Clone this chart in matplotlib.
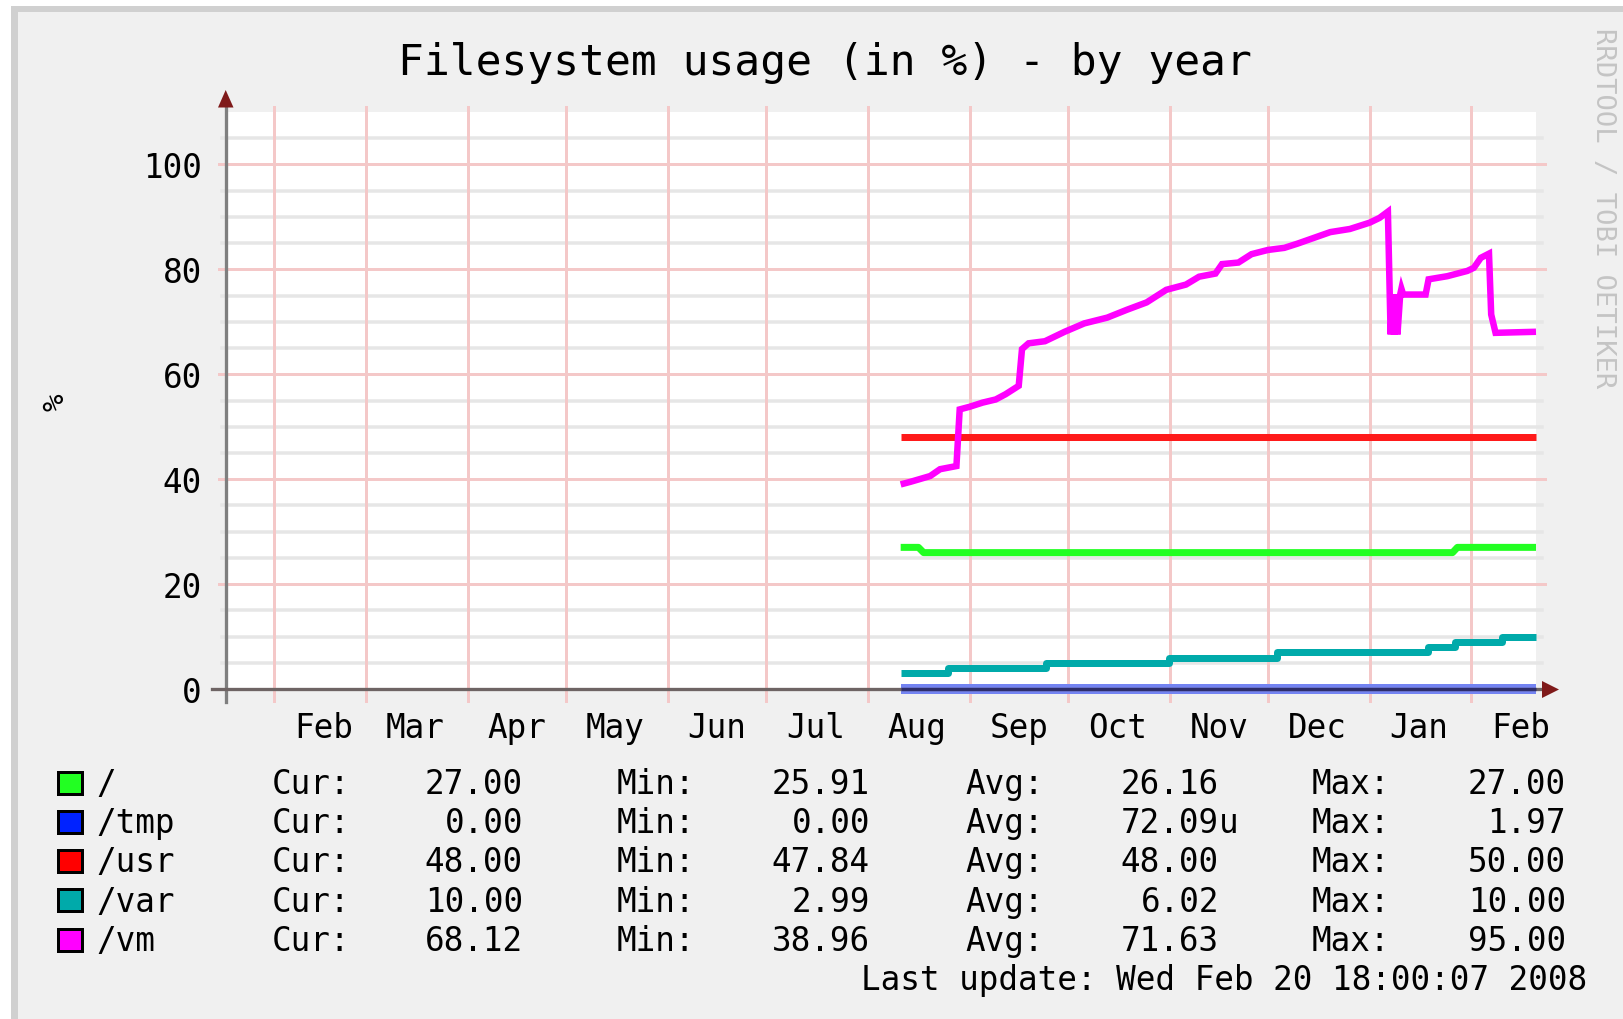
import matplotlib
matplotlib.use("Agg")
import matplotlib.pyplot as plt
import matplotlib.transforms as mtrans
from matplotlib.patches import Rectangle, Polygon
import pandas as pd

# ---------------- data ----------------
title = "Filesystem usage (in %) - by year"
ylabel = "%"
watermark = "RRDTOOL / TOBI OETIKER"
last_update = "Last update: Wed Feb 20 18:00:07 2008"

x_start = "2007-01-17 06:00"
x_end = "2008-02-20 18:00"

month_starts = pd.date_range("2007-02-01", "2008-02-01", freq="MS")
month_labels = ["Feb", "Mar", "Apr", "May", "Jun", "Jul", "Aug",
                "Sep", "Oct", "Nov", "Dec", "Jan", "Feb"]
y_major = [0, 20, 40, 60, 80, 100]
y_minor = [5, 10, 15, 25, 30, 35, 45, 50, 55, 65, 70, 75, 85, 90, 95, 105]
y_max = 110

root_dates = ["2007-08-11 00:00", "2007-08-16 10:00", "2007-08-18 00:00",
              "2008-01-26 07:00", "2008-01-27 19:00", "2008-02-20 18:00"]
root_vals = [27.0, 27.0, 26.0, 26.0, 27.0, 27.0]

tmp_dates = ["2007-08-11 00:00", "2008-02-20 18:00"]
tmp_vals = [0.0, 0.0]

usr_dates = ["2007-08-11 00:00", "2008-02-20 18:00"]
usr_vals = [48.0, 48.0]

var_dates = ["2007-08-11 00:00", "2007-08-25 10:00", "2007-09-24 10:00",
             "2007-10-31 19:00", "2007-12-03 19:00", "2008-01-18 19:00",
             "2008-01-27 00:00", "2008-02-10 07:00", "2008-02-20 18:00"]
var_vals = [3.0, 4.0, 5.0, 6.0, 7.0, 8.0, 9.0, 10.0, 10.0]

vm_dates = ["2007-08-11 00:00", "2007-08-14 00:00", "2007-08-20 00:00",
            "2007-08-23 00:00", "2007-08-28 00:00", "2007-08-29 00:00",
            "2007-09-01 00:00", "2007-09-05 00:00", "2007-09-09 00:00",
            "2007-09-12 00:00", "2007-09-16 00:00", "2007-09-17 00:00",
            "2007-09-19 00:00", "2007-09-24 00:00", "2007-09-30 00:00",
            "2007-10-06 00:00", "2007-10-13 00:00", "2007-10-19 00:00",
            "2007-10-25 00:00", "2007-10-31 00:00", "2007-11-06 00:00",
            "2007-11-10 00:00", "2007-11-15 00:00", "2007-11-17 00:00",
            "2007-11-22 00:00", "2007-11-26 00:00", "2007-12-01 00:00",
            "2007-12-06 00:00", "2007-12-10 00:00", "2007-12-15 00:00",
            "2007-12-20 00:00", "2007-12-26 00:00", "2008-01-01 00:00",
            "2008-01-04 00:00", "2008-01-06 14:00",
            "2008-01-07 10:00", "2008-01-08 00:00", "2008-01-08 12:00",
            "2008-01-09 00:00", "2008-01-09 12:00", "2008-01-10 08:00",
            "2008-01-10 17:00", "2008-01-11 06:00", "2008-01-18 02:00",
            "2008-01-19 00:00", "2008-01-24 17:00", "2008-01-30 19:00",
            "2008-02-01 19:00", "2008-02-03 22:00", "2008-02-06 10:00",
            "2008-02-07 02:00", "2008-02-08 10:00", "2008-02-20 18:00"]
vm_vals = [39.0, 39.5, 40.6, 41.9, 42.5, 53.3, 53.8, 54.6, 55.2, 56.2,
           57.8, 64.8, 65.9, 66.3, 68.1, 69.7, 70.8, 72.3, 73.7, 76.1,
           77.1, 78.6, 79.2, 81.0, 81.3, 82.9, 83.7, 84.1, 84.9, 86.0,
           87.1, 87.7, 88.9, 89.8, 91.0,
           67.6, 75.2, 67.6, 75.2, 67.6, 75.2,
           76.3, 75.2, 75.2,
           78.1, 78.7, 79.7, 80.3, 82.2, 83.0,
           71.4, 67.9, 68.1]

legend_labels = ["/", "/tmp", "/usr", "/var", "/vm"]
legend_colors = ["#22ff22", "#0022ff", "#ff0000", "#00aaaa", "#ff00ff"]
cur_vals = ["27.00", "0.00", "48.00", "10.00", "68.12"]
min_vals = ["25.91", "0.00", "47.84", "2.99", "38.96"]
avg_vals = ["26.16", "72.09", "48.00", "6.02", "71.63"]
avg_units = ["", "u", "", "", ""]
max_vals = ["27.00", "1.97", "50.00", "10.00", "95.00"]


def dt(lst):
    return pd.to_datetime(lst, format="%Y-%m-%d %H:%M")


# ---------------- layout ----------------
W, H = 1624, 1020
DPI = 100
PX = 72.0 / DPI  # points per pixel
plt.rcParams["font.family"] = ["DejaVu Sans Mono", "DejaVu Sans"]

fig = plt.figure(figsize=(W / DPI, H / DPI), dpi=DPI, facecolor="white")
bg = fig.add_axes([0, 0, 1, 1], zorder=0)
bg.set_xlim(0, W)
bg.set_ylim(H, 0)
bg.axis("off")
bg.add_patch(Rectangle((11, 6.7), W, H, facecolor="#d0d0d0", edgecolor="none"))
bg.add_patch(Rectangle((17.7, 12.7), W, H, facecolor="#f0f0f0", edgecolor="none"))

L, R, T, B = 226, 1536, 113, 690
ax = fig.add_axes([L / W, (H - B) / H, (R - L) / W, (B - T) / H], zorder=1)
ax.set_facecolor("white")
for s in ax.spines.values():
    s.set_visible(False)
ax.set_xticks([])
ax.set_yticks([])
ax.set_xlim(pd.Timestamp(x_start), pd.Timestamp(x_end))
ax.set_ylim(0, y_max)

pw, ph = R - L, B - T
minor_c = "#e6e6e6"
major_c = "#f4c8c8"
for v in y_minor:
    ax.axhline(v, xmin=-4.2 / pw, xmax=(1541.7 - L) / pw, color=minor_c,
               lw=3.5 * PX, clip_on=False, zorder=1)
for v in y_major[1:]:
    ax.axhline(v, xmin=-7.4 / pw, xmax=(1545 - L) / pw, color=major_c,
               lw=3 * PX, clip_on=False, zorder=1.1)
for d in month_starts:
    ax.axvline(d, ymin=-12 / ph, ymax=1 + 5 / ph, color=major_c,
               lw=3 * PX, clip_on=False, zorder=1.1)

lw = 7 * PX
ax.plot(dt(root_dates), root_vals, color="#22ff22", lw=lw,
        zorder=3, solid_capstyle="butt", clip_on=False)
ax.plot(dt(tmp_dates), tmp_vals, color="#7383f2", lw=10 * PX,
        zorder=3, solid_capstyle="butt", clip_on=False)
ax.plot(dt(usr_dates), usr_vals, color="#ff1a1a", lw=lw,
        zorder=3, solid_capstyle="butt", clip_on=False)
ax.plot(dt(var_dates), var_vals, color="#00aaaa", lw=lw,
        zorder=3, drawstyle="steps-post", solid_capstyle="butt", clip_on=False)
ax.plot(dt(vm_dates), vm_vals, color="#ff00ff", lw=6.5 * PX,
        zorder=3, solid_capstyle="butt", solid_joinstyle="miter", clip_on=False)

# axes lines
axis_c = "#6e6464"
ax.plot([0, 0], [-13 / ph, 1 + 5 / ph], transform=ax.transAxes, color="#7f7f7f",
        lw=3.3 * PX, clip_on=False, zorder=4)
ax.plot([-14 / pw, 1 + 6 / pw], [0, 0], transform=ax.transAxes, color=axis_c,
        lw=3.3 * PX, clip_on=False, zorder=4)
ax.plot(dt(tmp_dates), tmp_vals, color="#2d2d6b", lw=3.3 * PX,
        zorder=4.5, solid_capstyle="butt", clip_on=False)
ax.add_patch(Polygon([(218, 108.5), (233.5, 108.5), (225.7, 91)], closed=True,
                     transform=bg.transData, facecolor="#7f1a1a",
                     edgecolor="none", zorder=5, clip_on=False))
ax.add_patch(Polygon([(1542, 682), (1542, 699), (1559, 690.5)], closed=True,
                     transform=bg.transData, facecolor="#7f1a1a",
                     edgecolor="none", zorder=5, clip_on=False))

fs = 23.5
# y tick labels
ytrans = mtrans.blended_transform_factory(bg.transData, ax.transData)
for v in y_major:
    ax.text(202, v, str(v), transform=ytrans, ha="right", va="center_baseline",
            fontsize=fs, color="#000000", clip_on=False)
# x tick labels (mid-month)
xtrans = mtrans.blended_transform_factory(ax.transData, bg.transData)
for d, lab in zip(month_starts, month_labels):
    ax.text(d + pd.Timedelta(days=15), 738, lab, transform=xtrans, ha="center",
            va="baseline", fontsize=fs, color="#000000", clip_on=False)

# title, y label, watermark
bg.text(825, 75, title, ha="center", va="baseline", fontsize=31, color="#000000")
bg.text(56, 402, ylabel, ha="center", va="center", rotation=90, fontsize=21,
        color="#000000")
bg.text(1603, 28, watermark, ha="center", va="top", rotation=-90, fontsize=19.5,
        color="#c4c4c4")

# legend
for i, (lab, col) in enumerate(zip(legend_labels, legend_colors)):
    base = 794 + i * 39.2
    bg.add_patch(Rectangle((58.5, base - 21.3), 24, 22, facecolor=col,
                           edgecolor="#000000", lw=3 * PX, zorder=3))
    bg.text(96, base, lab, ha="left", va="baseline", fontsize=fs)
    bg.text(272, base, "Cur:", ha="left", va="baseline", fontsize=fs)
    bg.text(523, base, cur_vals[i], ha="right", va="baseline", fontsize=fs)
    bg.text(617, base, "Min:", ha="left", va="baseline", fontsize=fs)
    bg.text(870, base, min_vals[i], ha="right", va="baseline", fontsize=fs)
    bg.text(965, base, "Avg:", ha="left", va="baseline", fontsize=fs)
    bg.text(1219, base, avg_vals[i], ha="right", va="baseline", fontsize=fs)
    if avg_units[i]:
        bg.text(1219, base, avg_units[i], ha="left", va="baseline", fontsize=fs)
    bg.text(1312, base, "Max:", ha="left", va="baseline", fontsize=fs)
    bg.text(1566, base, max_vals[i], ha="right", va="baseline", fontsize=fs)

bg.text(1587, 990, last_update, ha="right", va="baseline", fontsize=fs)

fig.savefig("out.png", dpi=DPI, facecolor="white")
